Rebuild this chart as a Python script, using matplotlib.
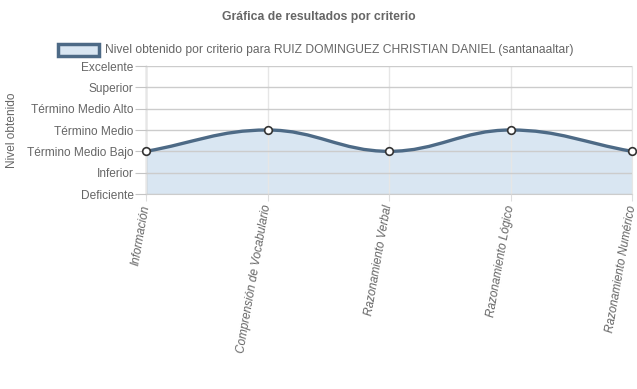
import matplotlib
matplotlib.use("Agg")
import matplotlib.pyplot as plt
from matplotlib.path import Path
from matplotlib.patches import PathPatch, Rectangle
import numpy as np

plt.rcParams['font.family'] = ['Liberation Sans', 'DejaVu Sans']

categories = ["Información", "Comprensión de Vocabulario", "Razonamiento Verbal",
              "Razonamiento Lógico", "Razonamiento Numérico"]
levels = ["Deficiente", "Inferior", "Término Medio Bajo", "Término Medio",
          "Término Medio Alto", "Superior", "Excelente"]
values = [2, 3, 2, 3, 2]
series_label = "Nivel obtenido por criterio para RUIZ DOMINGUEZ CHRISTIAN DANIEL (santanaaltar)"
title = "Gráfica de resultados por criterio"

line_color = "#4d6a86"
fill_color = "#d9e6f2"
text_color = "#666666"

fig = plt.figure(figsize=(6.37, 3.89), dpi=100)
W, H = 637, 389
ax = fig.add_axes([146 / W, 1 - 194 / H, (632 - 146) / W, (194 - 66) / H])

xs = np.arange(len(categories), dtype=float)
ys = np.array(values, dtype=float)

# Chart.js-style spline (tension 0.4)
t = 0.4
n = len(xs)
pts = np.column_stack([xs, ys])
cp_prev = []
cp_next = []
for i in range(n):
    p0 = pts[max(i - 1, 0)]
    p1 = pts[i]
    p2 = pts[min(i + 1, n - 1)]
    d01 = np.hypot(*(p1 - p0))
    d12 = np.hypot(*(p2 - p1))
    s01 = d01 / (d01 + d12) if (d01 + d12) else 0
    s12 = d12 / (d01 + d12) if (d01 + d12) else 0
    fa, fb = t * s01, t * s12
    cp_prev.append(p1 - fa * (p2 - p0))
    cp_next.append(p1 + fb * (p2 - p0))

verts = [tuple(pts[0])]
codes = [Path.MOVETO]
for i in range(n - 1):
    verts += [tuple(cp_next[i]), tuple(cp_prev[i + 1]), tuple(pts[i + 1])]
    codes += [Path.CURVE4] * 3
line_path = Path(verts, codes)

fill_verts = verts + [(xs[-1], 0), (xs[0], 0), tuple(pts[0])]
fill_codes = codes + [Path.LINETO, Path.LINETO, Path.CLOSEPOLY]
ax.add_patch(PathPatch(Path(fill_verts, fill_codes), facecolor=fill_color, edgecolor='none', zorder=1))
ax.add_patch(PathPatch(line_path, facecolor='none', edgecolor=line_color, lw=2.4, zorder=3,
                       capstyle='round', joinstyle='round'))
ax.plot(xs, ys, 'o', ms=5.5, mfc='white', mec='#333333', mew=1.2, zorder=4, clip_on=False)

ax.set_xlim(0, len(categories) - 1)
ax.set_ylim(0, len(levels) - 1)
ax.set_yticks(range(len(levels)))
ax.set_yticklabels(levels, fontsize=8.6, color=text_color)
ax.set_xticks(xs)
ax.set_xticklabels(categories, fontsize=8.5, color=text_color, style='italic',
                   rotation=80, ha='right', va='center', rotation_mode='anchor')
ax.tick_params(axis='x', length=5, color='#dddddd', pad=3)
ax.tick_params(axis='y', length=8, color='#c4c4c4', pad=1)
ax.grid(True, axis='y', color='#cccccc', lw=1.0, zorder=2)
ax.grid(True, axis='x', color='#e6e6e6', lw=1.0, zorder=2)
ax.set_axisbelow(False)
for s in ['top']:
    ax.spines[s].set_visible(False)
ax.spines['right'].set_color('#e6e6e6')
ax.spines['left'].set_color('#aaaaaa')
ax.spines['left'].set_linewidth(1.0)
ax.spines['bottom'].set_color('#cccccc')
ax.set_facecolor('white')

fig.text(12 / W, 1 - 130 / H, "Nivel obtenido", rotation=90, ha='center', va='center',
         fontsize=8.6, color=text_color)
fig.text(0.5, 1 - 17 / H, title, ha='center', va='center', fontsize=8.8,
         fontweight='bold', color=text_color)

fig.patches.append(Rectangle((58 / W, 1 - 56 / H), 41 / W, 12 / H, transform=fig.transFigure,
                             facecolor=fill_color, edgecolor=line_color, lw=2.5, figure=fig))
fig.text(105 / W, 1 - 49.5 / H, series_label, ha='left', va='center', fontsize=8.7, color=text_color)

fig.savefig("out.png", dpi=100)
